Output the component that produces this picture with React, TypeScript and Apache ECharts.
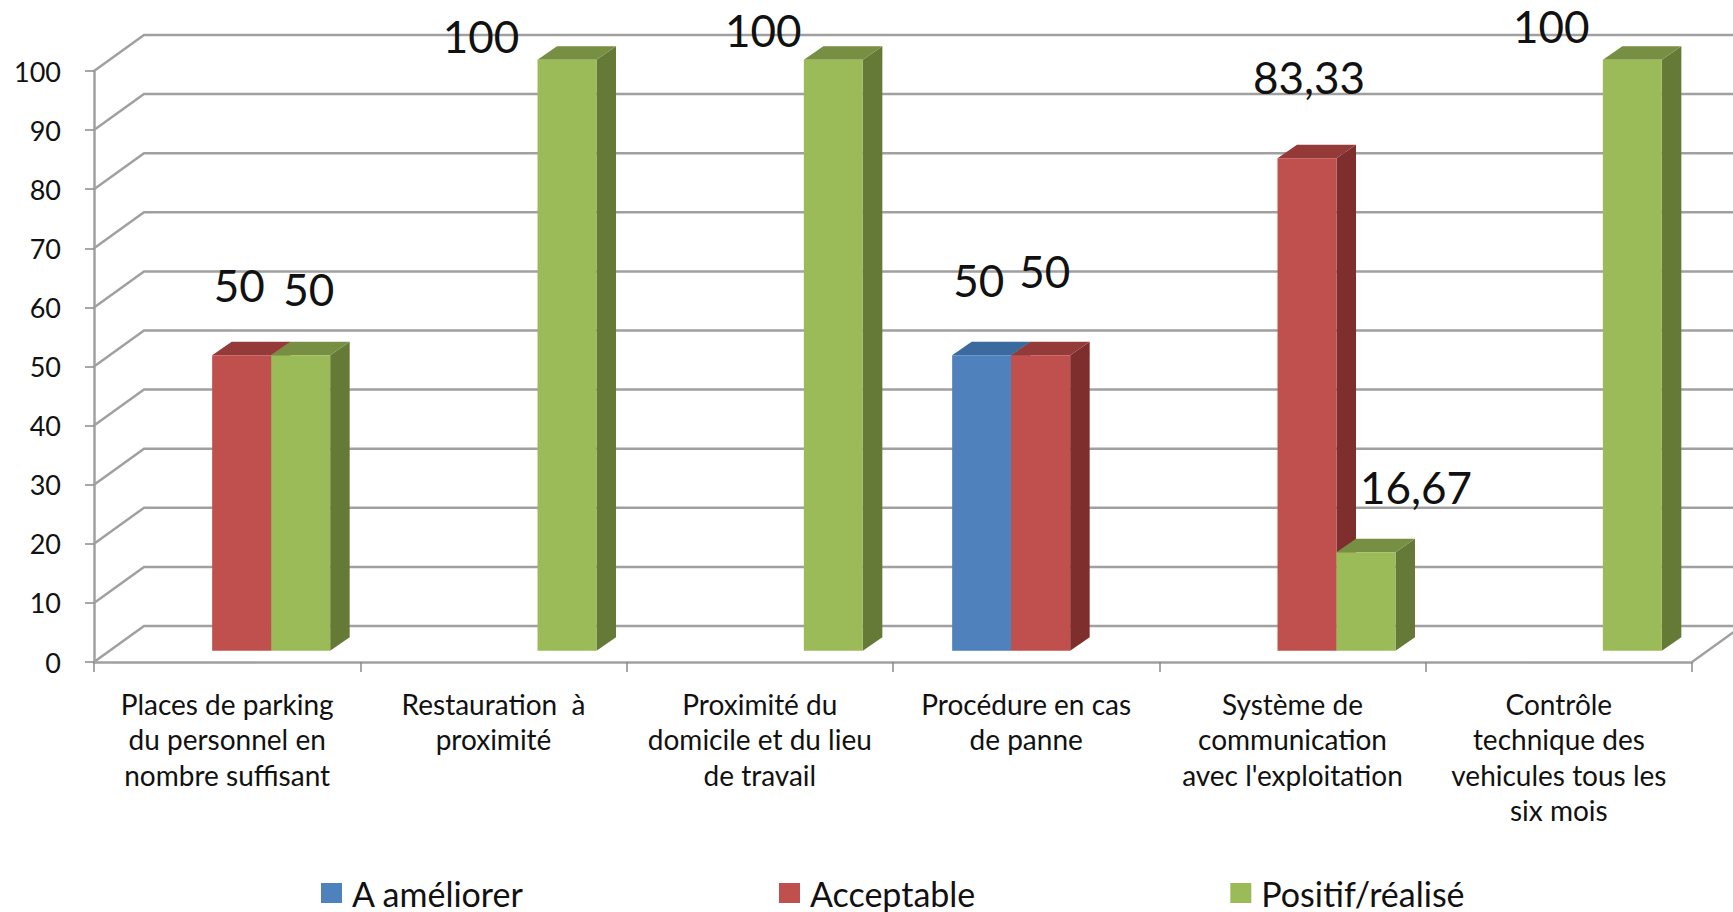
import React, { useEffect, useRef } from "react";
import * as echarts from "echarts";

const categories = [
  "Places de parking\ndu personnel en\nnombre suffisant",
  "Restauration  à\nproximité",
  "Proximité du\ndomicile et du lieu\nde travail",
  "Procédure en cas\nde panne",
  "Système de\ncommunication\navec l'exploitation",
  "Contrôle\ntechnique des\nvehicules tous les\nsix mois",
];
const seriesNames = ["A améliorer", "Acceptable", "Positif/réalisé"];
const aAmeliorer = [null, null, null, 50, null, null];
const acceptable = [50, null, null, 50, 83.33, null];
const positif = [50, 100, 100, null, 16.67, 100];
const gridValues = [0, 10, 20, 30, 40, 50, 60, 70, 80, 90, 100];

// label displacement from the top centre of each bar (px)
const nudgeBlue = [null, null, null, [-3, -75], null, null];
const nudgeRed = [[-2.5, -70], null, null, [4, -84], [2, -81], null];
const nudgeGreen = [[8, -66], [-86, -24], [-70, -30], null, [50, -65], [-81, -34]];

const FONT = "Lato, 'Noto Sans', sans-serif";
const WALL_DX = 50, WALL_DY = 36;
const BAR_DX = 14.5, BAR_DY = 11.3;
const SIDE_DX = 19.5, SIDE_DY = 13.5;
const BAR_SHARE = 59 / 266.3;
const GRID_COLOR = "#a0a0a0";

const barSeries = (name: string, values: (number | null)[], nudges: any[], slot: number, front: string, top: string, side: string) => ({
  type: "custom",
  name,
  z: 3,
  clip: false,
  itemStyle: { color: front },
  encode: { x: 0, y: 1 },
  data: values.map((v, i) => [i, v]).filter((d) => d[1] !== null),
  renderItem: (params: any, api: any) => {
    const cat = api.value(0);
    const val = api.value(1);
    const band = api.size([0, 0])[0];
    const w = band * BAR_SHARE;
    const p = api.coord([cat, val]);
    const b = api.coord([cat, 0]);
    const x0 = p[0] + BAR_DX + (slot - 1.5) * w;
    const x1 = x0 + w;
    const yT = p[1] - BAR_DY;
    const yB = b[1] - BAR_DY;
    const n = nudges[cat];
    return {
      type: "group",
      children: [
        { type: "polygon", shape: { points: [[x1, yT], [x1 + SIDE_DX, yT - SIDE_DY], [x1 + SIDE_DX, yB - SIDE_DY], [x1, yB]] }, style: { fill: side } },
        { type: "polygon", shape: { points: [[x0, yT], [x0 + SIDE_DX, yT - SIDE_DY], [x1 + SIDE_DX, yT - SIDE_DY], [x1, yT]] }, style: { fill: top } },
        { type: "rect", shape: { x: x0, y: yT, width: w, height: yB - yT }, style: { fill: front } },
        {
          type: "text",
          z2: 50,
          style: {
            text: String(val).replace(".", ","),
            x: (x0 + x1) / 2 + n[0],
            y: yT + n[1],
            align: "center",
            verticalAlign: "middle",
            fill: "#111",
            font: `44px ${FONT}`,
          },
        },
      ],
    };
  },
});

export default function App() {
  const ref = useRef<HTMLDivElement>(null);
  useEffect(() => {
    const chart = echarts.init(ref.current!, null, { renderer: "svg" });
    chart.setOption({
      animation: false,
      backgroundColor: "#fff",
      grid: { left: 94, top: 71, width: 1598, height: 591, containLabel: false },
      legend: {
        left: 321,
        top: 876,
        padding: 0,
        itemWidth: 21,
        itemHeight: 20,
        itemGap: 255,
        icon: "rect",
        data: seriesNames,
        selectedMode: false,
        textStyle: { fontFamily: FONT, fontSize: 34, lineHeight: 28, color: "#111", padding: [0, 0, 0, 5] },
      },
      xAxis: {
        type: "category",
        data: categories,
        axisLine: { show: true, lineStyle: { color: GRID_COLOR, width: 2.5 } },
        axisTick: { show: true, length: 10, lineStyle: { color: "#8a8a8a", width: 1.5 } },
        axisLabel: {
          interval: 0,
          margin: 24,
          fontFamily: FONT,
          fontSize: 28,
          lineHeight: 35.5,
          color: "#111",
          hideOverlap: false,
        },
        splitLine: { show: false },
      },
      yAxis: {
        type: "value",
        min: 0,
        max: 100,
        interval: 10,
        axisLine: { show: true, lineStyle: { color: GRID_COLOR, width: 2.5 } },
        axisTick: { show: true, length: 9, lineStyle: { color: "#8a8a8a", width: 1.5 } },
        axisLabel: { margin: 33, fontFamily: FONT, fontSize: 27, color: "#111", padding: [16, 0, 0, 0] },
        splitLine: { show: false },
      },
      series: [
        {
          type: "custom",
          name: "grille",
          z: 1,
          silent: true,
          clip: false,
          encode: { x: 0, y: 1 },
          data: gridValues.map((v) => [0, v]),
          renderItem: (params: any, api: any) => {
            const band = api.size([0, 0])[0];
            const p = api.coord([0, api.value(1)]);
            const left = p[0] - band / 2;
            const right = left + band * categories.length;
            const isFloor = api.value(1) === 0;
            const children: any[] = [
              {
                type: "polyline",
                shape: { points: [[left, p[1]], [left + WALL_DX, p[1] - WALL_DY], [right + WALL_DX, p[1] - WALL_DY]] },
                style: { fill: "none", stroke: GRID_COLOR, lineWidth: 2.5 },
              },
            ];
            if (isFloor) {
              children.push({
                type: "line",
                shape: { x1: right, y1: p[1], x2: right + WALL_DX, y2: p[1] - WALL_DY },
                style: { stroke: GRID_COLOR, lineWidth: 2.5 },
              });
            }
            return { type: "group", children };
          },
        },
        barSeries(seriesNames[0], aAmeliorer, nudgeBlue, 0, "#4F81BD", "#3B6A9E", "#35608F"),
        barSeries(seriesNames[1], acceptable, nudgeRed, 1, "#C0504D", "#943A38", "#7E2F2D"),
        barSeries(seriesNames[2], positif, nudgeGreen, 2, "#9BBB59", "#778F42", "#667A37"),
      ],
    });
    return () => chart.dispose();
  }, []);
  return <div ref={ref} style={{ position: "absolute", left: 0, top: 0, width: 1733, height: 912 }} />;
}
